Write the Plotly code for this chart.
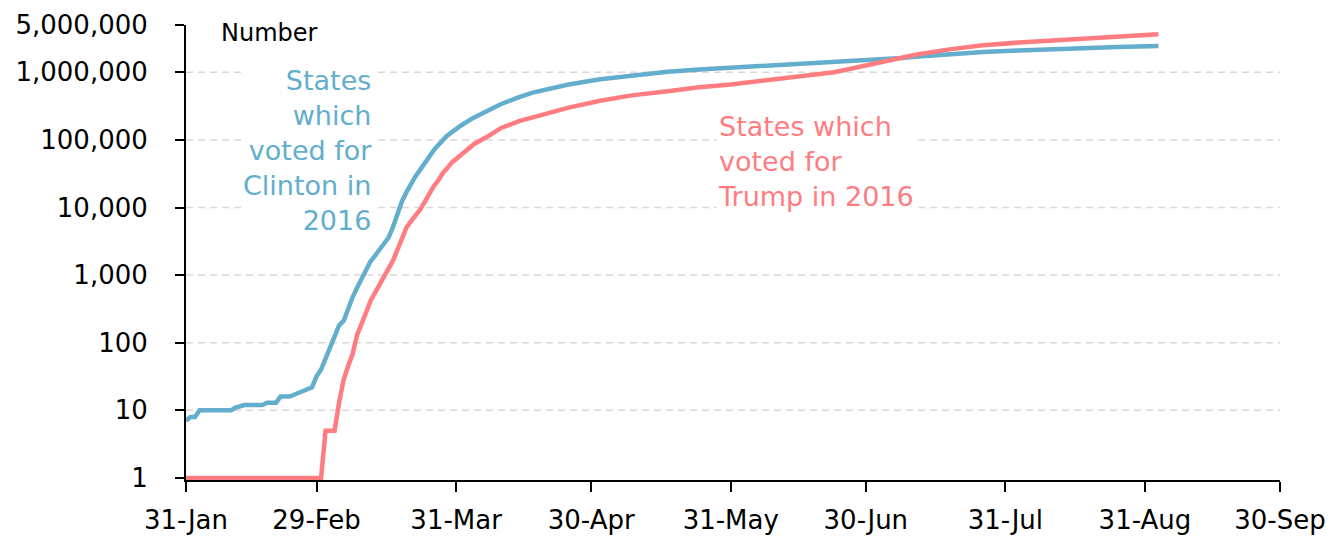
import math
import plotly.graph_objects as go

clinton_dates = ["2020-01-31","2020-02-01","2020-02-02","2020-02-03","2020-02-10","2020-02-11","2020-02-13","2020-02-17","2020-02-18","2020-02-20","2020-02-21","2020-02-23","2020-02-24","2020-02-26","2020-02-27","2020-02-28","2020-02-29","2020-03-01","2020-03-02","2020-03-03","2020-03-04","2020-03-05","2020-03-06","2020-03-07","2020-03-08","2020-03-09","2020-03-10","2020-03-11","2020-03-12","2020-03-13","2020-03-14","2020-03-15","2020-03-16","2020-03-17","2020-03-18","2020-03-19","2020-03-20","2020-03-21","2020-03-22","2020-03-23","2020-03-24","2020-03-25","2020-03-26","2020-03-27","2020-03-29","2020-04-01","2020-04-04","2020-04-07","2020-04-10","2020-04-14","2020-04-17","2020-04-25","2020-05-02","2020-05-09","2020-05-17","2020-05-24","2020-05-31","2020-06-08","2020-06-15","2020-06-23","2020-06-30","2020-07-08","2020-07-11","2020-07-19","2020-07-26","2020-08-03","2020-08-10","2020-08-17","2020-08-25","2020-09-03"]
clinton_values = [7,8,8,10,10,11,12,12,13,13,16,16,17,19,20,22,32,40,58,85,120,180,210,330,470,650,900,1250,1600,1950,2400,2900,3600,5200,8500,12500,17000,23000,29000,36000,45000,57000,70000,83000,115000,162000,215000,270000,340000,430000,500000,660000,790000,890000,1020000,1100000,1170000,1240000,1320000,1380000,1500000,1620000,1700000,1880000,2000000,2100000,2200000,2300000,2370000,2450000]

trump_dates = ["2020-01-31","2020-03-01","2020-03-02","2020-03-04","2020-03-05","2020-03-06","2020-03-07","2020-03-08","2020-03-09","2020-03-10","2020-03-11","2020-03-12","2020-03-13","2020-03-14","2020-03-15","2020-03-16","2020-03-17","2020-03-18","2020-03-19","2020-03-20","2020-03-21","2020-03-22","2020-03-23","2020-03-24","2020-03-25","2020-03-26","2020-03-27","2020-03-28","2020-03-29","2020-03-30","2020-03-31","2020-04-02","2020-04-04","2020-04-07","2020-04-10","2020-04-14","2020-04-17","2020-04-25","2020-05-02","2020-05-09","2020-05-17","2020-05-24","2020-05-31","2020-06-08","2020-06-15","2020-06-23","2020-06-30","2020-07-08","2020-07-11","2020-07-19","2020-07-26","2020-08-03","2020-08-10","2020-08-17","2020-08-25","2020-09-03"]
trump_values = [1,1,5,5,13,28,45,68,130,200,280,420,550,740,950,1260,1650,2400,3700,5100,6300,7600,9300,12000,16000,20500,25000,32000,38000,46000,52000,68000,87000,112000,150000,190000,215000,300000,380000,455000,525000,600000,660000,760000,850000,1000000,1260000,1650000,1820000,2200000,2500000,2750000,2950000,3150000,3400000,3650000]

x_tick_vals = ["2020-01-31","2020-02-29","2020-03-31","2020-04-30","2020-05-31","2020-06-30","2020-07-31","2020-08-31","2020-09-30"]
x_tick_text = ["31-Jan","29-Feb","31-Mar","30-Apr","31-May","30-Jun","31-Jul","31-Aug","30-Sep"]
y_tick_vals = [1,10,100,1000,10000,100000,1000000,5000000]
y_tick_text = ["1","10","100","1,000","10,000","100,000","1,000,000","5,000,000"]
grid_vals = [10,100,1000,10000,100000,1000000]

BLUE = "#62AECC"
RED = "#FF7C80"
FONT = "DejaVu Sans"

fig = go.Figure()
fig.add_trace(go.Scatter(x=clinton_dates, y=clinton_values, mode="lines",
                         line=dict(color=BLUE, width=4.5), showlegend=False))
fig.add_trace(go.Scatter(x=trump_dates, y=trump_values, mode="lines",
                         line=dict(color=RED, width=4.5), showlegend=False))

for v in grid_vals:
    fig.add_shape(type="line", xref="paper", x0=0, x1=1, yref="y",
                  y0=v, y1=v,
                  line=dict(color="#D9D9D9", width=1.5, dash="7px,5px"), layer="below")

fig.add_annotation(text="Number", xref="paper", yref="paper", x=0.030, y=0.982,
                   xanchor="left", yanchor="middle", showarrow=False,
                   font=dict(family=FONT, size=24, color="#000000"))
fig.add_annotation(text="States<br>which<br>voted for<br>Clinton in<br>2016",
                   xref="paper", yref="paper", x=0.1722, y=0.725,
                   xanchor="right", yanchor="middle", align="right", showarrow=False,
                   bgcolor="white", borderpad=1,
                   font=dict(family=FONT, size=27, color=BLUE))
fig.add_annotation(text="States which<br>voted for<br>Trump in 2016",
                   xref="paper", yref="paper", x=0.4843, y=0.699,
                   xanchor="left", yanchor="middle", align="left", showarrow=False,
                   bgcolor="white", borderpad=1,
                   font=dict(family=FONT, size=27, color=RED))

fig.update_layout(
    width=1331, height=537,
    margin=dict(l=186, r=51, t=25, b=57, autoexpand=False),
    plot_bgcolor="white", paper_bgcolor="white",
    font=dict(family=FONT, size=26, color="#000000"),
    xaxis=dict(type="date", range=["2020-01-31", "2020-09-30"], automargin=False,
               tickmode="array", tickvals=x_tick_vals, ticktext=x_tick_text,
               showgrid=False, zeroline=False, showline=True, linecolor="black", linewidth=2,
               ticks="outside", ticklen=10, tickwidth=2, tickcolor="black",
               tickfont=dict(family=FONT, size=26, color="black"),
               ticklabelstandoff=6, layer="below traces"),
    yaxis=dict(type="log", range=[-0.03, math.log10(5000000)], automargin=False,
               tickmode="array", tickvals=y_tick_vals, ticktext=y_tick_text,
               showgrid=False, zeroline=False, showline=True, linecolor="black", linewidth=2,
               ticks="outside", ticklen=9, tickwidth=2, tickcolor="black",
               tickfont=dict(family=FONT, size=26, color="black"),
               ticklabelstandoff=22, layer="below traces"),
)

fig.write_html("out.html", config={"displayModeBar": False},
               post_script="document.body.style.margin='0';document.body.style.overflow='hidden';")
